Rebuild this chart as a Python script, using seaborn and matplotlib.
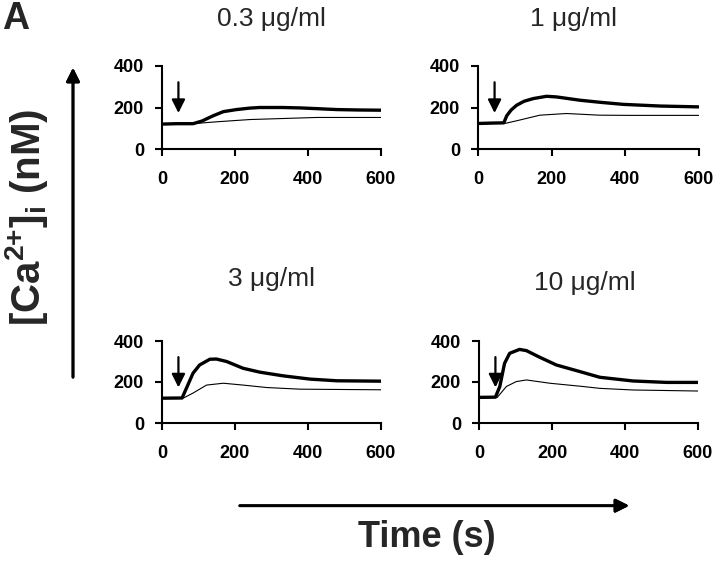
import pandas as pd
import seaborn as sns
import matplotlib.pyplot as plt

# values: time (s) vs [Ca2+]i (nM)
titles = ["0.3 μg/ml", "1 μg/ml", "3 μg/ml", "10 μg/ml"]

t_03_thick = [0, 40, 85, 110, 140, 168, 204, 240, 268, 330, 378, 430, 479, 540, 600]
ca_03_thick = [120, 122, 122, 135, 160, 180, 190, 197, 200, 200, 198, 194, 190, 188, 187]
t_03_thin = [0, 85, 149, 241, 332, 424, 500, 600]
ca_03_thin = [121, 122, 131, 142, 147, 152, 152, 152]

t_1_thick = [0, 40, 70, 78, 90, 105, 125, 150, 186, 213, 277, 332, 395, 495, 600]
ca_1_thick = [123, 125, 126, 160, 188, 211, 230, 243, 254, 251, 235, 225, 215, 207, 203]
t_1_thin = [0, 75, 105, 168, 240, 330, 420, 600]
ca_1_thin = [122, 124, 136, 163, 171, 163, 162, 162]

t_3_thick = [0, 55, 67, 85, 103, 131, 149, 177, 222, 268, 332, 406, 479, 600]
ca_3_thick = [121, 122, 170, 243, 283, 311, 312, 300, 267, 248, 230, 214, 206, 204]
t_3_thin = [0, 60, 85, 122, 168, 222, 287, 378, 600]
ca_3_thin = [121, 123, 146, 185, 194, 185, 173, 165, 162]

t_10_thick = [0, 45, 57, 70, 84, 111, 130, 166, 212, 276, 331, 422, 514, 600]
ca_10_thick = [125, 126, 178, 291, 340, 359, 353, 321, 283, 251, 223, 205, 198, 198]
t_10_thin = [0, 50, 75, 102, 130, 194, 285, 331, 422, 600]
ca_10_thin = [124, 125, 178, 202, 210, 194, 178, 169, 161, 156]

# time of addition (arrow)
t_add = 45

panels = [
    (t_03_thick, ca_03_thick, t_03_thin, ca_03_thin),
    (t_1_thick, ca_1_thick, t_1_thin, ca_1_thin),
    (t_3_thick, ca_3_thick, t_3_thin, ca_3_thin),
    (t_10_thick, ca_10_thick, t_10_thin, ca_10_thin),
]

sns.set_style("ticks")
plt.rcParams['font.family'] = ['Liberation Sans', 'DejaVu Sans']
plt.rcParams['font.weight'] = 'bold'
plt.rcParams['mathtext.fontset'] = 'custom'
plt.rcParams['mathtext.rm'] = 'Liberation Sans:bold'
plt.rcParams['mathtext.bf'] = 'Liberation Sans:bold'
plt.rcParams['mathtext.it'] = 'Liberation Sans:bold'

W, H = 720, 571
fig = plt.figure(figsize=(7.2, 5.71), dpi=100)

# axes boxes in pixels: left, top, right, bottom
boxes = [(162, 66, 381, 149), (478, 66, 699, 149), (162, 341, 381, 423), (479, 341, 698, 423)]
# title positions in pixels (center x, baseline y)
title_pos = [(271, 26), (574, 26), (272, 286), (585, 290)]

for i, (tk, ck, tn, cn) in enumerate(panels):
    l, t, r, b = boxes[i]
    ax = fig.add_axes([l / W, 1 - b / H, (r - l) / W, (b - t) / H])
    df_thick = pd.DataFrame({"time": tk, "ca": ck})
    df_thin = pd.DataFrame({"time": tn, "ca": cn})
    sns.lineplot(data=df_thin, x="time", y="ca", ax=ax, color="black", lw=0.8)
    sns.lineplot(data=df_thick, x="time", y="ca", ax=ax, color="black", lw=2.4)
    ax.set_xlim(0, 600)
    ax.set_ylim(0, 400)
    ax.set_xticks([0, 200, 400, 600])
    ax.set_yticks([0, 200, 400])
    ax.set_xlabel('')
    ax.set_ylabel('')
    sns.despine(ax=ax)
    for s in ['left', 'bottom']:
        ax.spines[s].set_linewidth(1.5)
        ax.spines[s].set_color('black')
    ax.tick_params(axis='both', direction='out', length=5, width=1.5, labelsize=13, colors='black')
    ax.tick_params(axis='x', pad=11)
    ax.tick_params(axis='y', pad=8)
    ax.annotate('', xy=(t_add, 160), xytext=(t_add, 335),
                arrowprops=dict(arrowstyle='-|>', color='black', lw=1.6, mutation_scale=20))
    tx, ty = title_pos[i]
    fig.text(tx / W, 1 - ty / H, titles[i], ha='center', va='baseline', fontsize=19, fontweight='normal')

# big axis arrows and labels
fig.add_artist(plt.annotate('', xy=(73 / W, 1 - 65 / H), xytext=(73 / W, 1 - 380 / H),
                            xycoords='figure fraction', textcoords='figure fraction',
                            arrowprops=dict(arrowstyle='-|>', color='black', lw=2, mutation_scale=20)))
fig.add_artist(plt.annotate('', xy=(632 / W, 1 - 505.7 / H), xytext=(237 / W, 1 - 505.7 / H),
                            xycoords='figure fraction', textcoords='figure fraction',
                            arrowprops=dict(arrowstyle='-|>', color='black', lw=2, mutation_scale=20)))

fig.text(427 / W, 1 - 547 / H, 'Time (s)', ha='center', va='baseline', fontsize=26, fontweight='bold')
fig.text(27 / W, 1 - 217 / H, r'[Ca$^{\mathbf{2{+}}}$]$_{\mathbf{i}}$ (nM)', rotation=90,
         ha='center', va='center', fontsize=29, fontweight='bold')
fig.text(2 / W, 1 - 1 / H, 'A', ha='left', va='top', fontsize=27, fontweight='bold')

fig.savefig('out.png', dpi=100)
